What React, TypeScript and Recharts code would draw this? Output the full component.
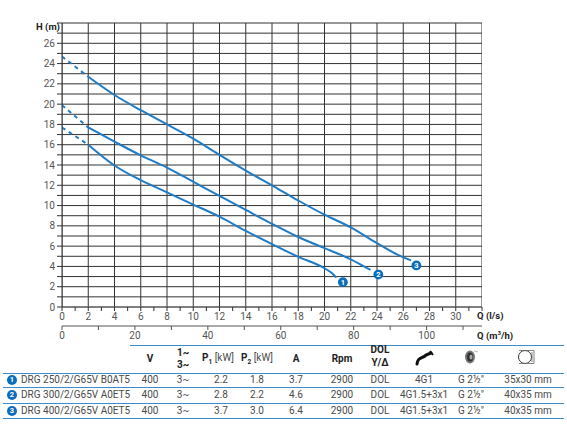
import React from 'react';
import { ComposedChart, Line, Scatter, XAxis, YAxis, CartesianGrid } from 'recharts';

// axis ticks
const qTicks = Array.from({ length: 33 }, (_, i) => i);
const hTicks = Array.from({ length: 29 }, (_, i) => i);
const m3Ticks = [0, 10, 20, 30, 40, 50, 60, 70, 80, 90, 100, 110];
const gridQ = [0, 2, 4, 6, 8, 10, 12, 14, 16, 18, 20, 22, 24, 26, 28, 30, 32];
const Q_MAX = 32;
const H_MAX = 28;

// pump curves, Q (l/s) -> H (m)
const q1 = [0, 2, 4, 6, 8, 10, 12, 14, 16, 18, 20, 20.55, 20.9];
const h1 = [17.7, 16.0, 13.95, 12.5, 11.3, 10.1, 8.9, 7.5, 6.2, 4.95, 3.82, 3.35, 2.9];
const q2 = [0, 2, 4, 6, 8, 10, 12, 14, 16, 18, 20, 22, 23.5];
const h2 = [19.9, 17.7, 16.3, 14.95, 13.75, 12.35, 10.95, 9.57, 8.2, 6.9, 5.8, 4.7, 3.65];
const q3 = [0, 2, 4, 6, 8, 10, 12, 14, 16, 18, 20, 22, 24, 26, 26.6];
const h3 = [24.7, 22.7, 20.9, 19.4, 18.0, 16.6, 15.0, 13.45, 12.0, 10.5, 9.1, 7.85, 6.3, 4.9, 4.6];

// numbered end markers
const markerQ = [21.4, 24.1, 27.0];
const markerH = [2.45, 3.2, 4.1];
const markerNo = [1, 2, 3];

// table
const models = ['DRG 250/2/G65V B0AT5', 'DRG 300/2/G65V A0ET5', 'DRG 400/2/G65V A0ET5'];
const volts = ['400', '400', '400'];
const phases = ['3~', '3~', '3~'];
const p1 = ['2.2', '2.8', '3.7'];
const p2 = ['1.8', '2.2', '3.0'];
const amps = ['3.7', '4.6', '6.4'];
const rpm = ['2900', '2900', '2900'];
const starting = ['DOL', 'DOL', 'DOL'];
const cable = ['4G1', '4G1.5+3x1', '4G1.5+3x1'];
const outlet = ['G 2½"', 'G 2½"', 'G 2½"'];
const passage = ['35x30 mm', '40x35 mm', '40x35 mm'];

const LINE = '#1f7bc6';
const MARK = '#0b6dbd';
const GRID = '#333';
const FONT = 'Roboto, "Noto Sans", sans-serif';
const PLOT_TOP = 23;
const PLOT_BOTTOM = 307;

const toPoints = (q: number[], h: number[]) => q.map((x, i) => ({ q: x, h: h[i] }));
const curves = [toPoints(q1, h1), toPoints(q2, h2), toPoints(q3, h3)];
const markers = markerQ.map((x, i) => ({ q: x, h: markerH[i], n: markerNo[i] }));
// vertical grid lines every 2 l/s, drawn through the chart's own scales
const gridLines = gridQ.map(q => [{ q, h: 0 }, { q, h: H_MAX }]);
// invisible helper so the m3/h axis has something bound to it
const m3Anchor = m3Ticks.map(v => ({ m3: v, h: 0 }));

// Q tick: short tick every 1 l/s, label every 2 l/s
const QTick = (props: any) => {
  const { x, y, payload } = props;
  const v = payload.value;
  const even = v % 2 === 0;
  return (
    <g>
      <line x1={x} x2={x} y1={PLOT_BOTTOM} y2={PLOT_BOTTOM + 4} stroke={GRID} strokeWidth={1} />
      {even && v <= 30 && (
        <text x={x} y={y} dy="0.71em" textAnchor="middle" fontSize={10} fill="#555">
          {v}
        </text>
      )}
    </g>
  );
};

const Badge = (props: any) => {
  const { cx, cy, payload } = props;
  return (
    <g>
      <circle cx={cx} cy={cy} r={4.9} fill={MARK} />
      <text x={cx} y={cy + 2.8} textAnchor="middle" fontSize={7.5} fontWeight={700} fill="#fff">
        {payload.n}
      </text>
    </g>
  );
};

const colX = [150, 183, 221, 257, 296, 342, 380, 424, 471, 528];
const rowY = [379.5, 395, 410.5];
const lineY = [372.5, 387, 402.5, 418];

const Txt: React.FC<{ x: number; y: number; bold?: boolean; children: React.ReactNode }> = ({ x, y, bold, children }) => (
  <div
    style={{
      position: 'absolute', left: x - 45, width: 90, top: y - 7, height: 14, lineHeight: '14px',
      textAlign: 'center', fontSize: 10, fontWeight: bold ? 700 : 400, color: bold ? '#222' : '#4a4a4a', whiteSpace: 'nowrap',
    }}
  >
    {children}
  </div>
);

const RowBadge: React.FC<{ n: number; y: number }> = ({ n, y }) => (
  <div
    style={{
      position: 'absolute', left: 7, top: y - 5, width: 10, height: 10, borderRadius: 5, background: MARK,
      color: '#fff', fontSize: 7.5, fontWeight: 700, lineHeight: '10px', textAlign: 'center',
    }}
  >
    {n}
  </div>
);

const tickStyle = { fontSize: 10, fill: '#555' };

const App: React.FC = () => {
  const rows = models.map((m, i) => [volts[i], phases[i], p1[i], p2[i], amps[i], rpm[i], starting[i], cable[i], outlet[i], passage[i]]);
  return (
    <div style={{ position: 'absolute', left: 0, top: 0, width: 567, height: 429, background: '#fff', fontFamily: FONT }}>
      <ComposedChart width={567} height={429} margin={{ top: PLOT_TOP, right: 85, bottom: 83, left: 22 }}>
        <CartesianGrid vertical={false} stroke={GRID} />
        <XAxis
          type="number"
          dataKey="q"
          domain={[0, Q_MAX]}
          allowDataOverflow
          ticks={qTicks}
          interval={0}
          height={19}
          tickSize={4}
          tickLine={false}
          tick={QTick}
        />
        <XAxis
          xAxisId="m3"
          type="number"
          dataKey="m3"
          domain={[0, 115.2]}
          allowDataOverflow
          ticks={m3Ticks}
          interval={0}
          height={20}
          tickSize={4}
          tickFormatter={(v: number) => (v % 20 === 0 ? String(v) : '')}
          tick={tickStyle}
          stroke="#555"
        />
        <YAxis
          type="number"
          dataKey="h"
          domain={[0, H_MAX]}
          allowDataOverflow
          ticks={hTicks}
          interval={0}
          width={40}
          tickSize={5}
          tickFormatter={(v: number) => (v % 2 === 0 && v <= 26 ? String(v) : '')}
          tick={tickStyle}
          stroke={GRID}
        />
        <Line xAxisId="m3" data={m3Anchor} dataKey="h" stroke="none" dot={false} activeDot={false} isAnimationActive={false} />
        {gridLines.map((pts, i) => (
          <Line
            key={'g' + i}
            data={pts}
            dataKey="h"
            type="linear"
            stroke={GRID}
            strokeWidth={1}
            dot={false}
            activeDot={false}
            isAnimationActive={false}
          />
        ))}
        {curves.map((pts, i) => (
          <Line
            key={'d' + i}
            data={pts.slice(0, 2)}
            dataKey="h"
            type="linear"
            stroke={LINE}
            strokeWidth={2}
            strokeDasharray="4 4"
            dot={false}
            isAnimationActive={false}
          />
        ))}
        {curves.map((pts, i) => (
          <Line
            key={'s' + i}
            data={pts.slice(1)}
            dataKey="h"
            type="monotone"
            stroke={LINE}
            strokeWidth={2}
            dot={false}
            isAnimationActive={false}
          />
        ))}
        <Scatter data={markers} dataKey="h" shape={Badge} isAnimationActive={false} />
      </ComposedChart>

      <div style={{ position: 'absolute', left: 36, top: 21, fontSize: 9.5, fontWeight: 700, color: '#222' }}>H (m)</div>
      <div style={{ position: 'absolute', left: 477, top: 310, fontSize: 9.5, fontWeight: 700, color: '#222' }}>Q (l/s)</div>
      <div style={{ position: 'absolute', left: 477, top: 329, fontSize: 9.5, fontWeight: 700, color: '#222' }}>
        Q (m<sup style={{ fontSize: 6 }}>3</sup>/h)
      </div>

      {/* table lines */}
      <div style={{ position: 'absolute', left: 130, top: 345, width: 434, height: 1, background: '#3a8bd0' }} />
      {lineY.map(y => (
        <div key={y} style={{ position: 'absolute', left: 3, top: y, width: 561, height: 1, background: '#3a8bd0' }} />
      ))}

      {/* header */}
      <Txt x={colX[0]} y={359} bold>V</Txt>
      <Txt x={colX[1]} y={352.5} bold>1~</Txt>
      <Txt x={colX[1]} y={365} bold>3~</Txt>
      <Txt x={colX[2] - 3} y={358}>
        <b style={{ color: '#222' }}>P<sub style={{ fontSize: 6.5 }}>1</sub></b> [kW]
      </Txt>
      <Txt x={colX[3]} y={358}>
        <b style={{ color: '#222' }}>P<sub style={{ fontSize: 6.5 }}>2</sub></b> [kW]
      </Txt>
      <Txt x={colX[4]} y={359} bold>A</Txt>
      <Txt x={colX[5]} y={359} bold>Rpm</Txt>
      <Txt x={colX[6]} y={350} bold>DOL</Txt>
      <Txt x={colX[6]} y={362.5} bold>Y/Δ</Txt>
      <svg style={{ position: 'absolute', left: 410, top: 345, pointerEvents: 'none' }} width={130} height={26}>
        <path d="M7 19 C8 11 13 14 16 10 L21 8" stroke="#111" strokeWidth={3} fill="none" strokeLinecap="round" />
        <path d="M20 6 L23 10" stroke="#111" strokeWidth={2} />
        <ellipse cx={60} cy={12} rx={5} ry={6.5} fill="#777" />
        <ellipse cx={60} cy={12} rx={3} ry={4.5} fill="#333" />
        <ellipse cx={61} cy={12} rx={1.5} ry={2.5} fill="#aaa" />
        <path d="M64 6 L68 7" stroke="#bbb" strokeWidth={1} />
        <circle cx={115} cy={12} r={6.5} stroke="#333" strokeWidth={1} fill="none" />
        <path d="M109 5.5 L124 5.5 L124 18.5 L109 18.5" stroke="#666" strokeWidth={0.8} fill="none" />
        <path d="M122 7 L122 17" stroke="#666" strokeWidth={0.8} />
      </svg>

      {/* rows */}
      {rows.map((vals, r) => (
        <React.Fragment key={r}>
          <RowBadge n={r + 1} y={rowY[r]} />
          <div style={{ position: 'absolute', left: 21, top: rowY[r] - 7, lineHeight: '14px', fontSize: 10, color: '#4a4a4a' }}>
            {models[r]}
          </div>
          {vals.map((v, c) => (
            <Txt key={c} x={colX[c]} y={rowY[r]}>{v}</Txt>
          ))}
        </React.Fragment>
      ))}
    </div>
  );
};

export default App;
